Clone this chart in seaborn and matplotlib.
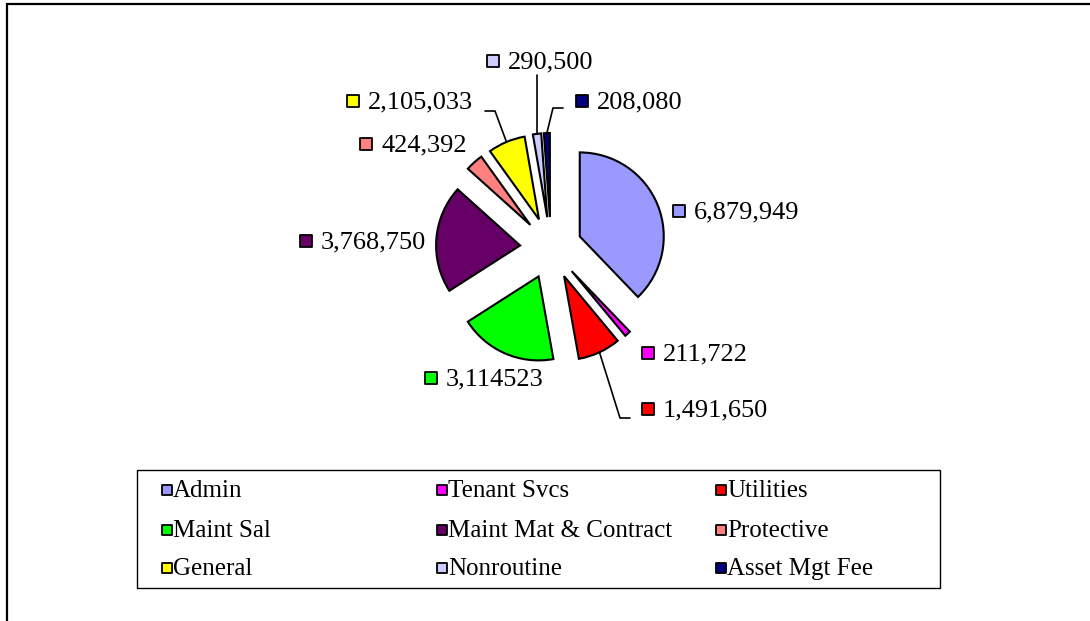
import math
import matplotlib
matplotlib.use('Agg')
import matplotlib.pyplot as plt
from matplotlib.patches import Rectangle
import seaborn as sns

# Chart data (slice sizes, labels as printed)
categories = ['Admin', 'Tenant Svcs', 'Utilities', 'Maint Sal', 'Maint Mat & Contract',
              'Protective', 'General', 'Nonroutine', 'Asset Mgt Fee']
values = [6879949, 211722, 1491650, 3414523, 3768750, 624392, 1305033, 290500, 208080]
value_labels = ['6,879,949', '211,722', '1,491,650', '3,114523', '3,768,750',
                '424,392', '2,105,033', '290,500', '208,080']
colors = ['#9999FF', '#FF00FF', '#FF0000', '#00FF00', '#660066',
          '#FF8080', '#FFFF00', '#CCCCFF', '#000080']

sns.set_theme(style='white')
plt.rcParams['font.family'] = ['Liberation Serif', 'DejaVu Serif']
plt.rcParams['text.color'] = 'black'

W, H = 1090, 621
fig = plt.figure(figsize=(W / 100, H / 100), dpi=100)
ax = fig.add_axes([0, 0, 1, 1])


def py(y):
    # pixel row (from top) -> data y
    return H - y


wedges, _ = ax.pie(values, colors=colors, startangle=90, counterclock=False,
                   explode=[31] * len(values), radius=84, center=(551, py(248)),
                   wedgeprops=dict(edgecolor='black', linewidth=1.5))
ax.set_xlim(0, W)
ax.set_ylim(0, H)
ax.set_aspect('equal')
ax.axis('off')

# data label positions (square centre x, y)
label_pos = [(679, 211), (648, 353), (648, 409), (431, 378), (306, 241),
             (366, 144), (353, 101), (493, 61), (582, 101)]
for (x, y), lab, c in zip(label_pos, value_labels, colors):
    ax.scatter([x], [py(y)], marker='s', s=70, color=c, edgecolor='black',
               linewidth=1.3, zorder=5)
    ax.text(x + 15, py(y + 1), lab, fontsize=19, va='center', ha='left', color='black')

# leader lines: label-side points, wedge end computed from geometry
leaders = {2: [(630, 418), (620, 418)],
           6: [(485, 111), (495, 111)],
           7: [(None, 75)],
           8: [(563, 108), (553, 108)]}
for i, pts in leaders.items():
    w = wedges[i]
    tm = math.radians((w.theta1 + w.theta2) / 2)
    cx, cy = w.center
    ex, ey = cx + w.r * math.cos(tm), cy + w.r * math.sin(tm)
    xs = [ex if p[0] is None else p[0] for p in pts] + [ex]
    ys = [py(p[1]) for p in pts] + [ey]
    ax.plot(xs, ys, color='black', linewidth=1.2, zorder=4)

# legend box drawn by hand (fixed column widths like the original)
ax.add_patch(Rectangle((137, py(588)), 803, 118, facecolor='white',
                       edgecolor='black', linewidth=1.0, zorder=3))
col_x = [167, 442, 721]
row_y = [490, 530, 568]
for k, (cat, c) in enumerate(zip(categories, colors)):
    x = col_x[k % 3]
    y = row_y[k // 3]
    ax.scatter([x], [py(y)], marker='s', s=62, color=c, edgecolor='black',
               linewidth=1.3, zorder=5)
    ax.text(x + 6, py(y + 1), cat, fontsize=18, va='center', ha='left',
            color='black', zorder=5)

# outer chart border (only left and top are visible)
ax.plot([7, 7, W], [0, py(4), py(4)], color='black', linewidth=1.6,
        solid_joinstyle='miter')

fig.savefig('out.png', dpi=100)
